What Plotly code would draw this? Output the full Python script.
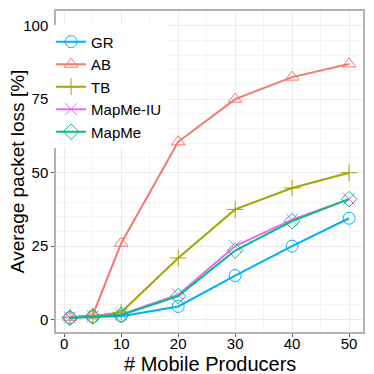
import plotly.graph_objects as go

producers = [1, 5, 10, 20, 30, 40, 50]
gr = [0.7, 1.0, 1.2, 4.5, 15.0, 25.0, 34.5]
ab = [0.8, 1.5, 26.0, 60.5, 75.0, 82.5, 87.0]
tb = [0.8, 1.2, 2.5, 21.0, 37.5, 44.8, 50.0]
mapme_iu = [0.7, 1.2, 1.8, 8.5, 25.0, 34.0, 41.0]
mapme = [0.6, 1.1, 1.6, 8.0, 23.5, 33.5, 41.0]

series = [
    ("GR", gr, "#00B0F6", "circle-open"),
    ("AB", ab, "#F8766D", "triangle-up-open"),
    ("TB", tb, "#A3A500", "cross-thin-open"),
    ("MapMe-IU", mapme_iu, "#E76BF3", "x-thin-open"),
    ("MapMe", mapme, "#00BF7D", "diamond-open"),
]

fig = go.Figure()
for name, vals, color, symbol in series:
    fig.add_trace(go.Scatter(
        x=producers, y=vals, name=name, mode="lines+markers",
        line=dict(color=color, width=2),
        marker=dict(symbol=symbol, size=12, color=color, line=dict(color=color, width=1)),
    ))

axis_common = dict(
    showgrid=True, gridcolor="#EBEBEB", gridwidth=1,
    minor=dict(showgrid=True, gridcolor="#F5F5F5", gridwidth=0.5),
    showline=True, linecolor="#B3B3B3", linewidth=1.5, mirror=True,
    ticks="outside", tickcolor="#555555", ticklen=3,
    tickfont=dict(size=15, color="black"),
    zeroline=False, automargin=False,
)

# page body has an 8px margin, so the figure is 8px smaller than the window
fig.update_layout(
    width=366, height=366,
    margin=dict(l=48, r=11, t=3, b=42),
    paper_bgcolor="white", plot_bgcolor="white",
    font=dict(family="Liberation Sans, Arial, sans-serif", color="black"),
    showlegend=True,
    legend=dict(
        x=-0.016, y=0.955, xanchor="left", yanchor="top",
        bgcolor="white", borderwidth=0,
        font=dict(size=15), tracegroupgap=0, itemwidth=30,
    ),
    xaxis=dict(axis_common, range=[-1.45, 52.45], tickvals=[0, 10, 20, 30, 40, 50],
               ticklabelstandoff=-6),
    yaxis=dict(axis_common, range=[-4.2, 105], tickvals=[0, 25, 50, 75, 100]),
    annotations=[
        dict(text="# Mobile Producers", xref="paper", yref="paper", x=0.5, y=-0.1,
             xanchor="center", yanchor="middle", showarrow=False, font=dict(size=20)),
        dict(text="Average packet loss [%]", xref="paper", yref="paper", x=-0.127, y=0.498,
             xanchor="center", yanchor="middle", textangle=-90, showarrow=False, font=dict(size=19)),
    ],
)

fig.write_html("out.html")
